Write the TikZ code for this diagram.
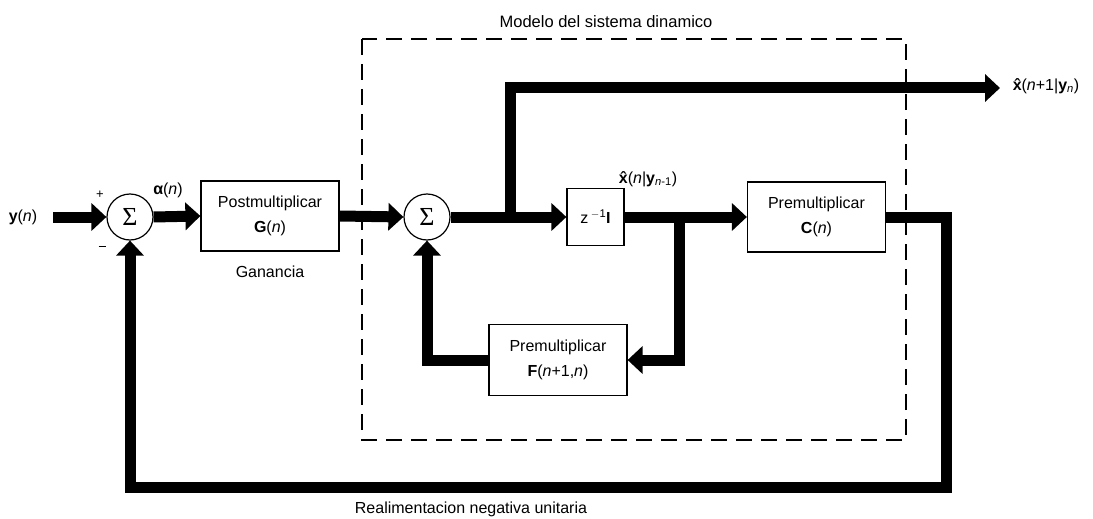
\documentclass[tikz,border=0pt]{standalone}
\usepackage{fontspec}
\setmainfont{Liberation Sans}
\newfontfamily\greekserif{Liberation Serif}
\usetikzlibrary{arrows.meta}
\tikzset{
  blk/.style={draw,line width=1.2pt,minimum width=138pt,minimum height=70pt,align=center,inner sep=0pt},
  summ/.style={draw,circle,line width=1.2pt,minimum size=46pt,inner sep=0pt},
  flow/.style={line width=11pt,-{Triangle[length=15pt,width=27pt]}},
}
\newcommand{\sumsym}{{\greekserif\fontsize{26}{26}\selectfont Σ}}
\newcommand{\xhat}{\rlap{\makebox[0.556em]{\bfseries ˆ}}\textbf{x}}
\begin{document}
\begin{tikzpicture}[x=1pt,y=-1pt,font=\fontsize{16}{25}\selectfont]
\useasboundingbox (0,0) rectangle (1093,519);
% model frame
\draw[line width=1.4pt,dash pattern=on 16pt off 9pt] (362,39) rectangle (906,440);
\node (tmod) at (606,22) {\fontsize{16.5}{18}\selectfont Modelo del sistema dinamico};
% blocks
\node (sumA) [summ] at (130,217) {\sumsym};
\node (boxG) [blk] at (270,216) {Postmultiplicar\\\textbf{G}(\textit{n})};
\node (sumB) [summ] at (427,217) {\sumsym};
\node (boxZ) [blk,minimum width=57pt,minimum height=57pt] at (595.5,217) {z\,\textsuperscript{$-$1}\textbf{I}};
\node (boxC) [blk] at (816.5,217) {Premultiplicar\\\textbf{C}(\textit{n})};
\node (boxF) [blk,minimum height=71pt] at (558,360) {Premultiplicar\\\textbf{F}(\textit{n}+1,\textit{n})};
% labels
\node (ly) at (23,217) {\textbf{y}(\textit{n})};
\node (lplus) at (100,195) {\fontsize{13}{13}\selectfont +};
\node (lminus) at (102,246) {\rule{7pt}{1pt}};
\node (lalpha) at (168,190) {\textbf{α}(\textit{n})};
\node (lgain) at (270,272) {Ganancia};
\node (lpred) at (648,179) {\xhat(\textit{n}|\textbf{y}\textsubscript{\textit{n}-1})};
\node (lout) at (1046,86) {\xhat(\textit{n}+1|\textbf{y}\textsubscript{\textit{n}})};
\node (lfb) at (471,509) {Realimentacion negativa unitaria};
% points
\coordinate (in1) at (53,217);
\coordinate (br1) at (510,217);
\coordinate (out1) at (1000,88);
\coordinate (br2) at (679,217);
\coordinate (cR) at (946,487);
% forward path
\draw[flow] (in1) -- (sumA.west);
\draw[flow] (sumA.east) -- (boxG.west);
\draw[flow] (boxG.east) -- (sumB.west);
\draw[flow] (sumB.east) -- (boxZ.west);
\draw[flow] (br1) |- (out1);
\draw[flow] (boxZ.east) -- (boxC.west);
% loops
\draw[flow] (br2) |- (boxF.east);
\draw[flow] (boxF.west) -| (sumB.south);
\draw[flow] (boxC.east) -| (cR) -| (sumA.south);
\end{tikzpicture}
\end{document}
